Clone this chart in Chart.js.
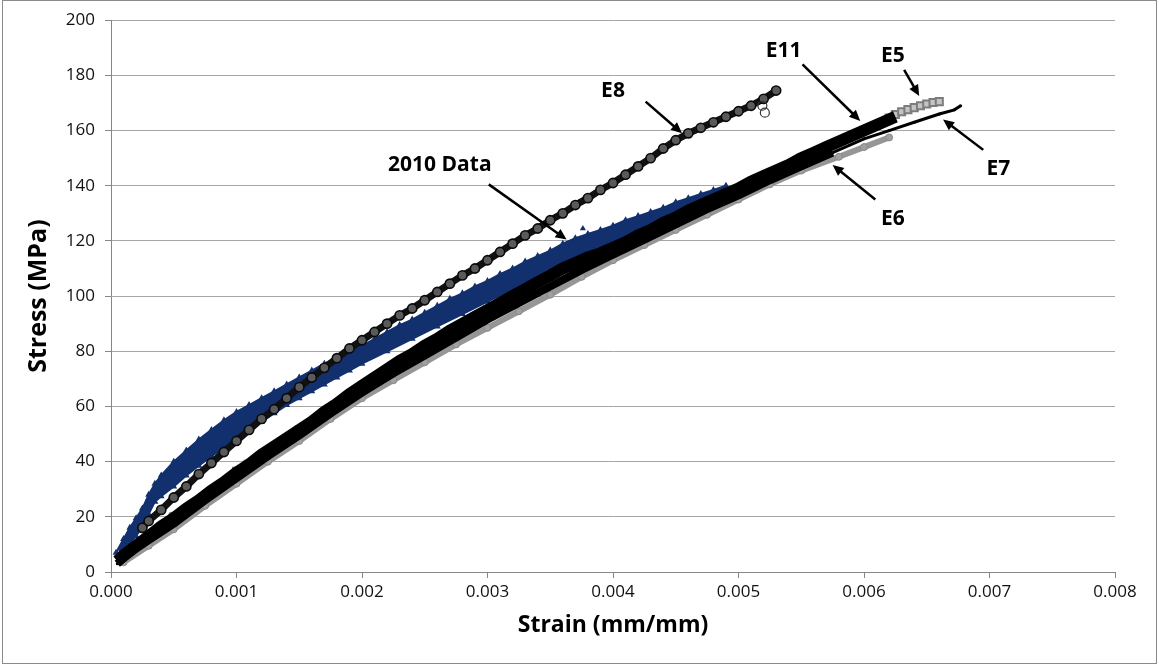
<!DOCTYPE html>
<html>
<head>
<meta charset="utf-8">
<title>Stress vs Strain</title>
<script src="https://cdn.jsdelivr.net/npm/chart.js@4.4.1/dist/chart.umd.min.js"></script>
<style>
  html, body { margin: 0; padding: 0; background: #fff; }
  #wrap { position: relative; width: 1159px; height: 666px; }
</style>
</head>
<body>
<div id="wrap"><canvas id="stressChart"></canvas></div>
<script>
/* ============================================================
   STRESS / STRAIN — specimens E5..E11 + 2010 data
   ============================================================ */

// Axis ticks
const strainTicks = [0, 0.001, 0.002, 0.003, 0.004, 0.005, 0.006, 0.007, 0.008];
const stressTicks = [0, 20, 40, 60, 80, 100, 120, 140, 160, 180, 200];

// E8 — open circles
const e8Strain = [0.00025, 0.0003, 0.0004, 0.0005, 0.0006, 0.0007, 0.0008, 0.0009, 0.0010, 0.0011, 0.0012, 0.0013, 0.0014, 0.0015, 0.0016, 0.0017, 0.0018, 0.0019, 0.0020, 0.0021, 0.0022, 0.0023, 0.0024, 0.0025, 0.0026, 0.0027, 0.0028, 0.0029, 0.0030, 0.0031, 0.0032, 0.0033, 0.0034, 0.0035, 0.0036, 0.0037, 0.0038, 0.0039, 0.0040, 0.0041, 0.0042, 0.0043, 0.0044, 0.0045, 0.0046, 0.0047, 0.0048, 0.0049, 0.0050, 0.0051, 0.0052, 0.0053];
const e8Stress = [16, 18.5, 22.5, 27, 31, 35.5, 39.5, 43.5, 47.5, 51.5, 55.5, 59, 63, 67, 70.5, 74, 77.5, 81, 84, 87, 90, 93, 95.5, 98.5, 101.5, 104.5, 107.5, 110, 113, 116, 119, 122, 124.5, 127.5, 130, 133, 135.5, 138.5, 141, 144, 147, 150, 153.5, 156.5, 159, 161, 163, 165, 167, 169, 171.5, 174.5];
const e8OutStrain = [0.00519, 0.00521];
const e8OutStress = [169, 166.5];

// E11 — solid black band
const e11Strain = [0.00005, 0.0001, 0.0002, 0.0003, 0.0004, 0.0005, 0.0006, 0.0007, 0.0008, 0.0009, 0.0010, 0.0011, 0.0012, 0.0013, 0.0014, 0.0015, 0.0016, 0.0017, 0.0018, 0.0019, 0.0020, 0.0021, 0.0022, 0.0023, 0.0024, 0.0025, 0.0026, 0.0027, 0.0028, 0.0029, 0.0030, 0.0031, 0.0032, 0.0033, 0.0034, 0.0035, 0.0036, 0.0037, 0.0038, 0.0039, 0.0040, 0.0041, 0.0042, 0.0043, 0.0044, 0.0045, 0.0046, 0.0047, 0.0048, 0.0049, 0.0050, 0.0051, 0.0052, 0.0053, 0.0054, 0.0055, 0.0056, 0.0057, 0.0058, 0.0059, 0.0060, 0.0061, 0.0062, 0.00625];
const e11Stress = [4, 6, 9.5, 13, 16.5, 19.5, 23, 26, 29.5, 32.5, 36, 39, 42.5, 45.5, 48.5, 51.5, 54.5, 58, 61, 64.5, 67.5, 70.5, 73.5, 76.5, 79, 82, 84.5, 87.5, 90, 92.5, 95, 97.5, 100, 102.5, 105, 107.5, 110, 112, 114, 115.5, 117.5, 119.5, 122, 124, 126.5, 128.5, 131, 133, 135, 137, 139, 141.5, 143.5, 145.5, 147.5, 150, 152, 154, 156, 158, 160, 162, 164, 165];

// E7 — black line (thin at the top end)
const e7Strain = [0.00005, 0.0001, 0.0002, 0.0003, 0.0005, 0.00075, 0.0010, 0.00125, 0.0015, 0.00175, 0.0020, 0.00225, 0.0025, 0.00275, 0.0030, 0.00325, 0.0035, 0.00375, 0.0040, 0.00425, 0.0045, 0.00475, 0.0050, 0.00525, 0.0055, 0.00575, 0.0060, 0.0062, 0.0064, 0.0066, 0.00672, 0.00677];
const e7Stress = [3, 5, 8.5, 11.5, 17.5, 26, 34, 42, 49.5, 57.5, 65, 72, 78.5, 85, 91.5, 97.5, 103.5, 109.5, 115, 120.5, 126, 131.5, 136.5, 142, 147, 152, 157, 160, 163, 166, 167.5, 169];

// E6 — grey circles
const e6Strain = [0.0001, 0.0003, 0.0005, 0.00075, 0.0010, 0.00125, 0.0015, 0.00175, 0.0020, 0.00225, 0.0025, 0.00275, 0.0030, 0.00325, 0.0035, 0.00375, 0.0040, 0.00425, 0.0045, 0.00475, 0.0050, 0.00525, 0.0055, 0.0058, 0.0060, 0.0062];
const e6Stress = [3.5, 9.5, 15.5, 24, 32, 40, 47.5, 55.5, 63, 69.5, 76, 82.5, 88.5, 94.5, 100.5, 107, 113, 118.5, 124, 129.5, 135, 140.5, 145.5, 150.5, 154, 157.5];
const e6OutStrain = [0.00108, 0.00049];
const e6OutStress = [39, 20];

// E5 — grey open squares (mostly under E11)
const e5Strain = [0.0001, 0.0005, 0.0010, 0.0015, 0.0020, 0.0025, 0.0030, 0.0035, 0.0040, 0.0045, 0.0050, 0.0055, 0.0060, 0.0062, 0.00625, 0.0063, 0.00635, 0.0064, 0.00645, 0.0065, 0.00655, 0.0066];
const e5Stress = [6, 20, 36.5, 51.5, 67, 81.5, 95, 107.5, 117.5, 128.5, 139, 150, 160, 164.5, 165.8, 166.8, 167.6, 168.3, 169, 169.6, 170.2, 170.5];

// 2010 data — upper and lower edge of the blue band
const d2010TopStrain = [0.00004, 0.0001, 0.00015, 0.0002, 0.00025, 0.0003, 0.00035, 0.0004, 0.0005, 0.0006, 0.0007, 0.0008, 0.0009, 0.0010, 0.0011, 0.0012, 0.0013, 0.0014, 0.0015, 0.0016, 0.0017, 0.0018, 0.0019, 0.0020, 0.0021, 0.0022, 0.0023, 0.0024, 0.0025, 0.0026, 0.0027, 0.0028, 0.0029, 0.0030, 0.0031, 0.0032, 0.0033, 0.0034, 0.0035, 0.0036, 0.0037, 0.0038, 0.0039, 0.0040, 0.0041, 0.0042, 0.0043, 0.0044, 0.0045, 0.0046, 0.0047, 0.0048, 0.0049];
const d2010TopStress = [7, 12, 16, 19.5, 23, 28, 32, 35, 40, 44, 48, 51.5, 55, 58, 60.5, 63, 65.5, 68, 70.5, 73, 75.5, 77.5, 80, 82, 84.5, 87, 89.5, 91.5, 94, 96.5, 99, 101, 103.5, 105.5, 108, 110, 112.5, 114.5, 116.5, 119, 121, 122.5, 124, 125.5, 127.5, 129, 130.5, 132, 134, 135.5, 137, 138.5, 140];
const d2010BotStrain = [0.00006, 0.0001, 0.00015, 0.0002, 0.00025, 0.0003, 0.00035, 0.0004, 0.0005, 0.0006, 0.0007, 0.0008, 0.0009, 0.0010, 0.0011, 0.0012, 0.0013, 0.0014, 0.0015, 0.0016, 0.0017, 0.0018, 0.0019, 0.0020, 0.0022, 0.0024, 0.0026, 0.0028, 0.0030, 0.0032, 0.0034, 0.0036, 0.0038, 0.0040, 0.0042, 0.0044, 0.0046, 0.0048, 0.0049];
const d2010BotStress = [5.5, 8, 10.5, 13, 16.5, 21, 25.5, 27.5, 31, 35, 38.5, 42, 45, 48, 51, 54.5, 57.5, 60.5, 63, 65.5, 68, 70.5, 73, 75.5, 80, 84.5, 89, 93.5, 98, 102.5, 106.5, 110.5, 114.5, 118, 121.5, 125, 128.5, 132, 134];
const d2010OutStrain = [0.00376];
const d2010OutStress = [124.5];

// Callouts
const calloutText = ['E8', '2010 Data', 'E11', 'E5', 'E7', 'E6'];
const calloutAt   = [[0.00400, 174.5], [0.00262, 147.5], [0.00536, 189], [0.00623, 187], [0.00707, 146], [0.00623, 128]];
const arrowFrom   = [[0.00426, 170.5], [0.00301, 140.5], [0.00551, 184], [0.00632, 182], [0.00695, 153], [0.00609, 135]];
const arrowTo     = [[0.00455, 159], [0.00363, 120.5], [0.00597, 163.5], [0.00644, 172.5], [0.00663, 164], [0.00575, 147.5]];

const NAVY = '#13306e';
const GREY = '#8c8c8c';

function pts(xs, ys) {
  return xs.map((x, i) => ({ x, y: ys[i] }));
}

// white page + thin frame
const framePlugin = {
  id: 'frame',
  beforeDraw(chart) {
    const { ctx, width, height } = chart;
    ctx.save();
    ctx.fillStyle = '#fff';
    ctx.fillRect(0, 0, width, height);
    ctx.strokeStyle = '#8a8a8a';
    ctx.lineWidth = 1;
    ctx.strokeRect(2.5, 0.5, width - 5, height - 3);
    ctx.restore();
  }
};

// labels with arrows
const calloutPlugin = {
  id: 'callouts',
  afterDatasetsDraw(chart) {
    const { ctx } = chart;
    const xs = chart.scales.x, ys = chart.scales.y;
    ctx.save();
    ctx.fillStyle = '#000';
    ctx.strokeStyle = '#000';
    ctx.font = 'bold 21px "Open Sans", sans-serif';
    ctx.textAlign = 'center';
    ctx.textBaseline = 'middle';
    calloutText.forEach((txt, i) => {
      ctx.fillText(txt, xs.getPixelForValue(calloutAt[i][0]), ys.getPixelForValue(calloutAt[i][1]));

      const x1 = xs.getPixelForValue(arrowFrom[i][0]), y1 = ys.getPixelForValue(arrowFrom[i][1]);
      const x2 = xs.getPixelForValue(arrowTo[i][0]), y2 = ys.getPixelForValue(arrowTo[i][1]);
      const ang = Math.atan2(y2 - y1, x2 - x1);
      const head = 11;
      ctx.lineWidth = 2.5;
      ctx.beginPath();
      ctx.moveTo(x1, y1);
      ctx.lineTo(x2 - Math.cos(ang) * head * 0.8, y2 - Math.sin(ang) * head * 0.8);
      ctx.stroke();
      ctx.beginPath();
      ctx.moveTo(x2, y2);
      ctx.lineTo(x2 - head * Math.cos(ang) + 5 * Math.sin(ang), y2 - head * Math.sin(ang) - 5 * Math.cos(ang));
      ctx.lineTo(x2 - head * Math.cos(ang) - 5 * Math.sin(ang), y2 - head * Math.sin(ang) + 5 * Math.cos(ang));
      ctx.closePath();
      ctx.fill();
    });
    ctx.restore();
  }
};

Chart.defaults.font.family = '"Open Sans", sans-serif';
Chart.defaults.color = '#000';

// first dataset is drawn on top
const datasets = [
  {
    label: 'E8 outliers',
    data: pts(e8OutStrain, e8OutStress),
    showLine: false,
    pointStyle: 'circle', pointRadius: 4.5,
    borderColor: '#333', borderWidth: 1.2,
    backgroundColor: 'rgba(255,255,255,0)'
  },
  {
    label: 'E8',
    data: pts(e8Strain, e8Stress),
    showLine: true,
    borderColor: '#111', borderWidth: 7,
    pointStyle: 'circle', pointRadius: 4.6,
    pointBorderColor: '#0a0a0a', pointBorderWidth: 1.6,
    pointBackgroundColor: '#5a5a5a'
  },
  {
    label: 'E11',
    data: pts(e11Strain, e11Stress),
    showLine: true,
    borderColor: '#000', borderWidth: 12,
    pointStyle: 'rectRot', pointRadius: 0
  },
  {
    label: 'E7',
    data: pts(e7Strain, e7Stress),
    showLine: true,
    borderColor: '#000', borderWidth: 8,
    segment: { borderWidth: ctx => (ctx.p0.parsed.x >= 0.0056 ? 3 : 8) },
    pointRadius: 1.5, pointBackgroundColor: '#000', pointBorderWidth: 0
  },
  {
    label: 'E5',
    data: pts(e5Strain, e5Stress),
    showLine: true,
    borderColor: GREY, borderWidth: 7,
    pointStyle: 'rect', pointRadius: 5,
    pointBorderColor: '#7c7c7c', pointBorderWidth: 2,
    pointBackgroundColor: '#c4c4c4'
  },
  {
    label: 'E6',
    data: pts(e6Strain, e6Stress),
    showLine: true,
    borderColor: '#969696', borderWidth: 6,
    pointStyle: 'circle', pointRadius: 3.5,
    pointBorderColor: '#8a8a8a', pointBorderWidth: 1,
    pointBackgroundColor: '#a0a0a0'
  },
  {
    label: 'E6 outliers',
    data: pts(e6OutStrain, e6OutStress),
    showLine: false,
    pointStyle: 'circle', pointRadius: 4.5,
    borderColor: '#8a8a8a', borderWidth: 1.2,
    backgroundColor: 'rgba(255,255,255,0)'
  },
  {
    label: '2010 Data',
    data: pts(d2010OutStrain, d2010OutStress),
    showLine: false,
    pointStyle: 'triangle', pointRadius: 3.5,
    backgroundColor: NAVY, borderWidth: 0
  },
  {
    label: '2010 Data',
    data: pts(d2010TopStrain, d2010TopStress),
    showLine: true,
    fill: '+1',
    borderColor: NAVY, borderWidth: 2,
    backgroundColor: NAVY,
    pointStyle: 'triangle', pointRadius: 4,
    pointBackgroundColor: NAVY, pointBorderWidth: 0
  },
  {
    label: '2010 Data',
    data: pts(d2010BotStrain, d2010BotStress),
    showLine: true,
    borderColor: NAVY, borderWidth: 2,
    backgroundColor: NAVY,
    pointStyle: 'triangle', pointRadius: 4,
    pointBackgroundColor: NAVY, pointBorderWidth: 0
  }
];

new Chart(document.getElementById('stressChart').getContext('2d'), {
  type: 'scatter',
  data: { datasets },
  options: {
    responsive: true,
    maintainAspectRatio: false,
    animation: false,
    layout: { padding: { left: 0, right: 44, top: 16, bottom: 19 } },
    plugins: {
      legend: { display: false },
      tooltip: { enabled: false }
    },
    scales: {
      x: {
        type: 'linear',
        min: strainTicks[0],
        max: strainTicks[strainTicks.length - 1],
        afterBuildTicks: axis => { axis.ticks = strainTicks.map(v => ({ value: v })); },
        afterFit: axis => { axis.height = 75; },
        ticks: {
          padding: 4,
          font: { size: 17 },
          color: '#111',
          maxRotation: 0,
          callback: v => Number(v).toFixed(3)
        },
        grid: { drawOnChartArea: false, tickLength: 6, color: '#868686' },
        border: { color: '#868686', width: 1 },
        title: {
          display: true,
          text: 'Strain (mm/mm)',
          font: { size: 23, weight: 'bold' },
          padding: { top: 0, bottom: 8 }
        }
      },
      y: {
        type: 'linear',
        min: stressTicks[0],
        max: stressTicks[stressTicks.length - 1],
        afterBuildTicks: axis => { axis.ticks = stressTicks.map(v => ({ value: v })); },
        afterFit: axis => { axis.width = 111; },
        ticks: {
          padding: 10,
          font: { size: 17 },
          color: '#111'
        },
        grid: { color: '#a6a6a6', tickLength: 6, tickColor: '#868686' },
        border: { color: '#868686', width: 1 },
        title: {
          display: true,
          text: 'Stress (MPa)',
          font: { size: 25, weight: 'bold' },
          padding: { top: 24, bottom: 0 }
        }
      }
    }
  },
  plugins: [framePlugin, calloutPlugin]
});
</script>
</body>
</html>
